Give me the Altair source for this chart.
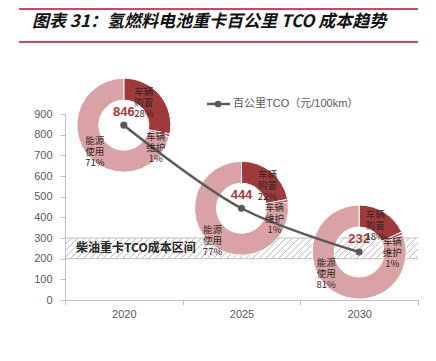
import altair as alt
import pandas as pd
import numpy as np

# ---------------- data ----------------
years = ["2020", "2025", "2030"]
tco = [846, 444, 232]
categories = ["车辆购置", "车辆维护", "能源使用"]
cat_names = ["车辆\n购置", "车辆\n维护", "能源\n使用"]
purchase_pct = [28, 22, 18]
maint_pct = [1, 1, 1]
energy_pct = [71, 77, 81]
diesel_low = 200
diesel_high = 300
y_ticks = [0, 100, 200, 300, 400, 500, 600, 700, 800, 900]
title_text = "图表 31：氢燃料电池重卡百公里 TCO 成本趋势"
legend_text = "百公里TCO（元/100km）"
band_text = "柴油重卡TCO成本区间"

# ---------------- layout / style ----------------
W, H = 353, 186
cat_colors = ["#a0393a", "#c8484a", "#d9a3a5"]
# label nudges (px) of the first text line, per donut and category: (dx, dy)
label_nudge = {
    "2020": [(20, -33), (32, 12), (-29, 16)],
    "2025": [(26, -33), (33, 0), (-29, 22)],
    "2030": [(16, -37), (33, -10), (-33, 11)],
}

line_df = pd.DataFrame({"year": years, "value": tco})

rows = []
for i, y in enumerate(years):
    pcts = [purchase_pct[i], maint_pct[i], energy_pct[i]]
    start = 0.0
    for c, name, p in zip(categories, cat_names, pcts):
        end = start + p / 100 * 2 * np.pi
        rows.append({"year": y, "value": tco[i], "category": c,
                     "t0": start, "t1": end, "label": f"{name}\n{p}%"})
        start = end
donut_df = pd.DataFrame(rows)

yscale = alt.Scale(domain=[0, 900], nice=False, zero=True)
yaxis = alt.Axis(values=y_ticks, grid=False, domainColor="#bfbfbf", tickColor="#bfbfbf",
                 tickSize=5, labelPadding=8, labelColor="#595959", labelFontSize=11,
                 labelFont="Liberation Sans", title=None)
xaxis = alt.Axis(grid=False, domainColor="#bfbfbf", tickColor="#bfbfbf", tickSize=5,
                 tickBand="extent", labelPadding=3, labelColor="#595959", labelFontSize=11,
                 labelFont="Liberation Sans", labelAngle=0, title=None)
xscale = alt.Scale(type="band", domain=years, paddingInner=0, paddingOuter=0)


def X():
    return alt.X("year:N", scale=xscale, axis=xaxis, title=None, bandPosition=0.5)


def Y(field="value"):
    return alt.Y(f"{field}:Q", scale=yscale, axis=yaxis, title=None, stack=None)


one = pd.DataFrame({"a": [0]})

# ---------------- hatched diesel band ----------------
rise = H * (diesel_high - diesel_low) / 900
starts = np.arange(-rise, W + 1, 6.5)
hatch_df = pd.DataFrame({"x0": starts, "x1": starts + rise,
                         "y0": diesel_low, "y1": diesel_high})
hatch = alt.Chart(hatch_df).mark_rule(clip=True, color="#b5b5b5", strokeWidth=1).encode(
    x=alt.X("x0:Q", scale=alt.Scale(domain=[0, W], nice=False, zero=False), axis=None),
    x2="x1",
    y=Y("y0"),
    y2="y1",
)

border_df = pd.DataFrame({"b": [diesel_low, diesel_high]})
border = alt.Chart(border_df).mark_rule(color="#bfbfbf", strokeWidth=1).encode(
    x=alt.value(0), x2=alt.value(W), y=Y("b"))

band_label = alt.Chart(pd.DataFrame({"year": [years[0]], "v": [(diesel_low + diesel_high) / 2]})).mark_text(
    text=band_text, font="Noto Sans CJK SC", fontSize=12, fontWeight="bold", color="#262626",
    dx=12, baseline="middle").encode(x=X(), y=Y("v"))

# ---------------- donuts ----------------
arcs = alt.Chart(donut_df).mark_arc(radius=47, radius2=25, stroke="white", strokeWidth=1).encode(
    x=X(), y=Y(),
    theta=alt.Theta("t0:Q", scale=None, stack=None),
    theta2="t1",
    color=alt.Color("category:N", scale=alt.Scale(domain=categories, range=cat_colors), legend=None),
)

label_layers = []
for y in years:
    for k, c in enumerate(categories):
        dx, dy = label_nudge[y][k]
        sub = donut_df[(donut_df.year == y) & (donut_df.category == c)]
        label_layers.append(
            alt.Chart(sub).mark_text(font="Noto Sans CJK SC", fontSize=9.5, lineHeight=11,
                                     lineBreak="\n", color="#332626", dx=dx, dy=dy,
                                     align="center", baseline="middle")
            .encode(x=X(), y=Y(), text="label:N"))

# ---------------- line ----------------
line = alt.Chart(line_df).mark_line(interpolate="catmull-rom", color="#595959", strokeWidth=2.5).encode(
    x=X(), y=Y())
pts = alt.Chart(line_df).mark_circle(size=50, color="#595959", opacity=1).encode(x=X(), y=Y())
vlabels = alt.Chart(line_df).mark_text(dy=-13, fontSize=13, fontWeight="bold", color="#a8393b",
                                       font="Liberation Sans", baseline="middle").encode(
    x=X(), y=Y(), text="value:Q")

# ---------------- legend ----------------
leg_line = alt.Chart(one).mark_rule(color="#595959", strokeWidth=2.5).encode(
    x=alt.value(142), x2=alt.value(165), y=alt.value(-10))
leg_pt = alt.Chart(one).mark_circle(size=45, color="#595959", opacity=1).encode(
    x=alt.value(153), y=alt.value(-10))
leg_text = alt.Chart(one).mark_text(text=legend_text, align="left", baseline="middle", fontSize=11,
                                    color="#595959", font="Liberation Sans, Noto Sans CJK SC").encode(
    x=alt.value(168), y=alt.value(-10))

# ---------------- title ----------------
title = alt.Chart(one).mark_text(text=title_text, align="left", baseline="middle", fontSize=17,
                                 fontWeight="bold", fontStyle="italic", color="#111111",
                                 font="Noto Sans CJK SC").encode(x=alt.value(-33), y=alt.value(-92))
red1 = alt.Chart(one).mark_rule(color="#d2465f", strokeWidth=2).encode(
    x=alt.value(-46), x2=alt.value(353), y=alt.value(-105))
red2 = alt.Chart(one).mark_rule(color="#d2465f", strokeWidth=2).encode(
    x=alt.value(-46), x2=alt.value(353), y=alt.value(-72))

main = alt.layer(border, band_label, arcs, line, pts, vlabels, *label_layers,
                 leg_line, leg_pt, leg_text, title, red1, red2)

chart = alt.layer(hatch, main).resolve_scale(x="independent").properties(
    width=W, height=H,
    autosize=alt.AutoSizeParams(type="none"),
    padding={"left": 57, "top": 106, "right": 10, "bottom": 50},
    background="white",
).configure_view(stroke=None)

chart.save("out.html", embed_options={"renderer": "svg", "actions": False})
